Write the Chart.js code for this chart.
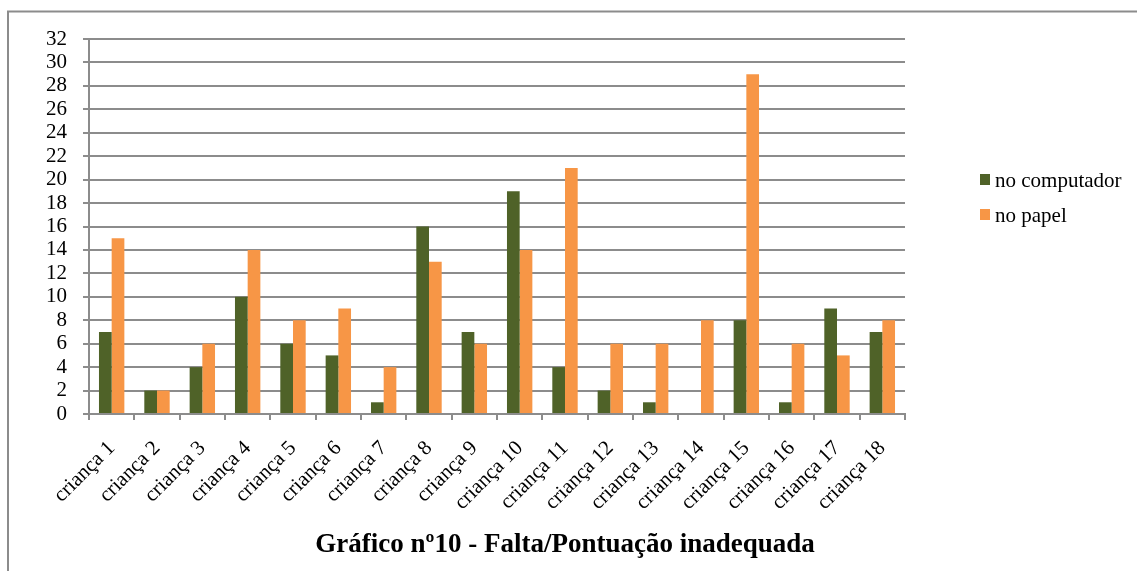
<!DOCTYPE html>
<html>
<head>
<meta charset="utf-8">
<script src="https://cdn.jsdelivr.net/npm/chart.js@4/dist/chart.umd.min.js"></script>
<style>
  html, body { margin: 0; padding: 0; background: #fff; }
  #wrap { width: 1137px; height: 571px; position: relative; }
</style>
</head>
<body>
<div id="wrap"><canvas id="c" width="1137" height="571"></canvas></div>
<script>
const categories = ["criança 1","criança 2","criança 3","criança 4","criança 5","criança 6","criança 7","criança 8","criança 9","criança 10","criança 11","criança 12","criança 13","criança 14","criança 15","criança 16","criança 17","criança 18"];
const noComputador = [7,2,4,10,6,5,1,16,7,19,4,2,1,0,8,1,9,7];
const noPapel = [15,2,6,14,8,9,4,13,6,14,21,6,6,8,29,6,5,8];
const seriesNames = ["no computador","no papel"];
const chartTitle = "Gráfico nº10 - Falta/Pontuação inadequada";
const yMin = 0, yMax = 32, yStep = 2;

const FONT = "'Liberation Serif', 'Times New Roman', serif";
const GREEN = "#4F6228";
const ORANGE = "#F79646";
const GRID = "#8C8C8C";

const decor = {
  id: 'decor',
  afterDraw(chart) {
    const ctx = chart.ctx;
    ctx.save();
    ctx.strokeStyle = "#8C8C8C";
    ctx.lineWidth = 2;
    ctx.beginPath();
    ctx.moveTo(8, 600);
    ctx.lineTo(8, 11.5);
    ctx.lineTo(1200, 11.5);
    ctx.stroke();
    ctx.font = "21px " + FONT;
    ctx.textBaseline = "middle";
    ctx.textAlign = "left";
    const ys = [180, 215];
    chart.data.datasets.forEach((ds, i) => {
      ctx.fillStyle = ds.backgroundColor;
      ctx.fillRect(980, ys[i] - 6, 10, 11);
      ctx.fillStyle = "#000";
      ctx.fillText(ds.label, 995, ys[i] + 1);
    });
    ctx.font = "bold 27px " + FONT;
    ctx.textAlign = "center";
    ctx.fillText(chartTitle, 565, 545);
    ctx.restore();
  }
};

new Chart(document.getElementById('c'), {
  type: 'bar',
  data: {
    labels: categories,
    datasets: [
      { label: seriesNames[0], data: noComputador, backgroundColor: GREEN, categoryPercentage: 0.56, barPercentage: 1.0 },
      { label: seriesNames[1], data: noPapel, backgroundColor: ORANGE, categoryPercentage: 0.56, barPercentage: 1.0 }
    ]
  },
  options: {
    responsive: false,
    animation: false,
    devicePixelRatio: 1,
    layout: { padding: { left: 0, right: 232, top: 39, bottom: 0 } },
    plugins: { legend: { display: false }, title: { display: false }, tooltip: { enabled: false } },
    scales: {
      x: {
        grid: { display: true, drawOnChartArea: false, drawTicks: true, tickLength: 6, color: GRID, lineWidth: 2, offset: true },
        border: { display: true, color: GRID, width: 2 },
        ticks: { color: "#000", font: { family: FONT, size: 21 }, minRotation: 45, maxRotation: 45, padding: 16, autoSkip: false },
        afterFit(scale) { scale.height = 157; }
      },
      y: {
        min: yMin, max: yMax,
        grid: { color: GRID, lineWidth: 2, drawTicks: true, tickLength: 6 },
        border: { display: true, color: GRID, width: 2 },
        ticks: { stepSize: yStep, autoSkip: false, color: "#000", font: { family: FONT, size: 21 }, padding: 16 },
        afterFit(scale) { scale.width = 89; }
      }
    }
  },
  plugins: [decor]
});
</script>
</body>
</html>
